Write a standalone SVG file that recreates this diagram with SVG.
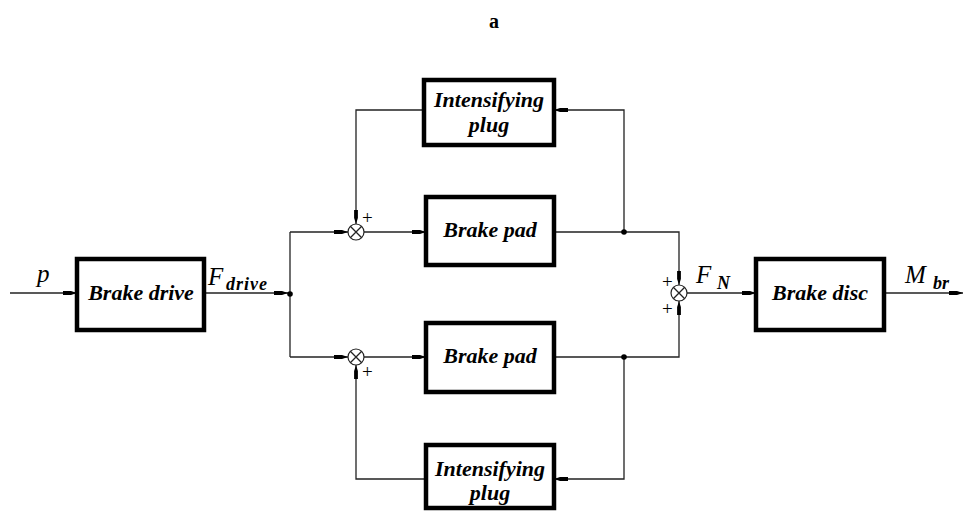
<svg xmlns="http://www.w3.org/2000/svg" width="965" height="512" viewBox="0 0 965 512">
<defs>
<marker id="ah" viewBox="0 0 14 6" refX="14" refY="3" markerWidth="14" markerHeight="6" markerUnits="userSpaceOnUse" orient="auto">
<path d="M0,1.1 L8,1.1 L14,3 L8,4.9 L0,4.9 Z" fill="#000"/>
</marker>
<style>
.box{fill:#fff;stroke:#000;stroke-width:4.5}
.ln{fill:none;stroke:#222;stroke-width:1.3}
.t{font-family:'Liberation Serif','Times New Roman','DejaVu Serif',serif;font-weight:bold;font-style:italic;font-size:22px;text-anchor:middle;fill:#000}
.lb{font-family:'Liberation Serif','Times New Roman','DejaVu Serif',serif;font-style:italic;font-size:25px;fill:#000}
.sb{font-family:'Liberation Serif','Times New Roman','DejaVu Serif',serif;font-style:italic;font-weight:bold;font-size:18px;fill:#000}
.pl{font-family:'Liberation Serif','Times New Roman','DejaVu Serif',serif;font-size:19px;fill:#000}
.sum{fill:#fff;stroke:#222;stroke-width:1.2}
</style>
</defs>
<rect width="965" height="512" fill="#fff"/>
<text x="494" y="28" font-family="'Liberation Serif','DejaVu Serif',serif" font-weight="bold" font-size="20" text-anchor="middle">a</text>

<g id="connectors">
<path class="ln" d="M10,293 H77" marker-end="url(#ah)"/>
<path class="ln" d="M204,293 H288" marker-end="url(#ah)"/>
<path class="ln" d="M290,232 V357"/>
<path class="ln" d="M290,232 H348" marker-end="url(#ah)"/>
<path class="ln" d="M290,357 H348" marker-end="url(#ah)"/>
<path class="ln" d="M364,232 H426" marker-end="url(#ah)"/>
<path class="ln" d="M364,357 H426" marker-end="url(#ah)"/>
<path class="ln" d="M554,232 H679 V285" marker-end="url(#ah)"/>
<path class="ln" d="M554,357 H679 V301" marker-end="url(#ah)"/>
<path class="ln" d="M624,232 V110 H554" marker-end="url(#ah)"/>
<path class="ln" d="M624,357 V479 H554" marker-end="url(#ah)"/>
<path class="ln" d="M424,110 H356 V224" marker-end="url(#ah)"/>
<path class="ln" d="M424,479 H356 V365" marker-end="url(#ah)"/>
<path class="ln" d="M687,293 H756" marker-end="url(#ah)"/>
<path class="ln" d="M884,293 H963" marker-end="url(#ah)"/>
<circle cx="290" cy="294" r="2.8" fill="#000"/>
<circle cx="624" cy="232" r="2.8" fill="#000"/>
<circle cx="624" cy="357" r="2.8" fill="#000"/>
</g>

<g id="sum1">
<circle class="sum" cx="356" cy="232" r="8"/>
<path class="ln" d="M350.3,226.3 L361.7,237.7 M361.7,226.3 L350.3,237.7" stroke-width="1"/>
<text class="pl" x="362" y="224">+</text>
</g>
<g id="sum2">
<circle class="sum" cx="356" cy="357" r="8"/>
<path class="ln" d="M350.3,351.3 L361.7,362.7 M361.7,351.3 L350.3,362.7" stroke-width="1"/>
<text class="pl" x="362" y="378">+</text>
</g>
<g id="sum3">
<circle class="sum" cx="679" cy="293" r="8"/>
<path class="ln" d="M673.3,287.3 L684.7,298.7 M684.7,287.3 L673.3,298.7" stroke-width="1"/>
<text class="pl" x="662" y="288">+</text>
<text class="pl" x="662" y="315">+</text>
</g>

<g id="brake-drive">
<rect class="box" x="77" y="259" width="127" height="71"/>
<text class="t" x="141" y="300">Brake drive</text>
</g>
<g id="plug-top">
<rect class="box" x="424" y="80" width="130" height="65"/>
<text class="t" x="489" y="107">Intensifying</text>
<text class="t" x="489" y="132">plug</text>
</g>
<g id="pad-top">
<rect class="box" x="426" y="197" width="128" height="68"/>
<text class="t" x="490" y="237">Brake pad</text>
</g>
<g id="pad-bottom">
<rect class="box" x="426" y="323" width="128" height="69"/>
<text class="t" x="490" y="363">Brake pad</text>
</g>
<g id="plug-bottom">
<rect class="box" x="426" y="445" width="128" height="63"/>
<text class="t" x="490" y="476">Intensifying</text>
<text class="t" x="490" y="500">plug</text>
</g>
<g id="brake-disc">
<rect class="box" x="756" y="259" width="128" height="71"/>
<text class="t" x="820" y="300">Brake disc</text>
</g>

<g id="labels">
<text class="lb" x="37" y="282">p</text>
<text class="lb" x="208" y="285">F</text>
<text class="sb" x="226" y="290" letter-spacing="1">drive</text>
<text class="lb" x="696" y="283">F</text>
<text class="sb" x="717" y="289">N</text>
<text class="lb" x="905" y="283">M</text>
<text class="sb" x="933" y="289">br</text>
</g>
</svg>
